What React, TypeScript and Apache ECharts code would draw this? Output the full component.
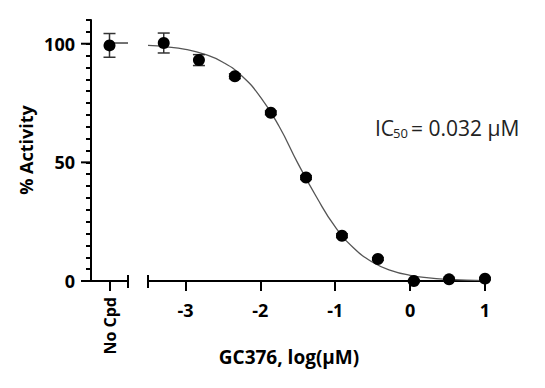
import React, { useEffect, useRef } from "react";
import * as echarts from "echarts";

// No-compound control
const noCpdX = [1];
const noCpdY = [99.3];
const noCpdErr = [5.0];
const topLineX = [1, 2];
const topLineY = [100.3, 100.3];

// GC376 dose response
const logConc = [-3.29, -2.82, -2.34, -1.86, -1.39, -0.91, -0.43, 0.05, 0.52, 1.0];
const activity = [100.3, 93.1, 86.3, 70.9, 43.6, 19.1, 9.3, 0.0, 0.7, 1.0];
const activityErr = [4.2, 2.3, 1.0, 0.8, 0.8, 0.8, 0.6, 0.6, 0.5, 0.5];

// fitted curve
const curveX = [-3.5, -3.25, -3.0, -2.75, -2.5, -2.25, -2.0, -1.75, -1.5, -1.25, -1.0, -0.75, -0.5, -0.25, 0, 0.25, 0.5, 0.75, 1.0];
const curveY = [99.3, 98.7, 97.6, 95.6, 92.2, 86.5, 77.6, 65.2, 49.7, 35.4, 22.8, 13.8, 7.9, 4.4, 2.4, 1.3, 0.7, 0.4, 0.2];

const xTicks = [-3, -2, -1, 0, 1];
const yTicks = [0, 50, 100];

const FONT = "Open Sans";

function errorRender(params: any, api: any) {
  const x = api.value(0);
  const y = api.value(1);
  const e = api.value(2);
  const t = api.coord([x, y + e]);
  const b = api.coord([x, y - e]);
  const w = 6;
  const st = { stroke: "#333", lineWidth: 1.5 };
  return {
    type: "group",
    children: [
      { type: "line", shape: { x1: t[0], y1: t[1], x2: b[0], y2: b[1] }, style: st },
      { type: "line", shape: { x1: t[0] - w, y1: t[1], x2: t[0] + w, y2: t[1] }, style: st },
      { type: "line", shape: { x1: b[0] - w, y1: b[1], x2: b[0] + w, y2: b[1] }, style: st },
    ],
  };
}

function segmentRender(params: any, api: any) {
  const a = api.coord([api.value(0), api.value(1)]);
  const b = api.coord([api.value(2), api.value(3)]);
  return {
    type: "line",
    shape: { x1: a[0], y1: a[1], x2: b[0], y2: b[1] },
    style: { stroke: "#444", lineWidth: 1.5 },
  };
}

function majorTickRender(params: any, api: any) {
  const p = api.coord([0, api.value(1)]);
  return {
    type: "line",
    shape: { x1: p[0] - 10, y1: p[1], x2: p[0], y2: p[1] },
    style: { stroke: "#000", lineWidth: 2 },
  };
}

export default function App() {
  const ref = useRef<HTMLDivElement>(null);
  useEffect(() => {
    if (!ref.current) return;
    const chart = echarts.init(ref.current, undefined, { renderer: "svg" });
    const tickLabel = { color: "#000", fontFamily: FONT, fontWeight: "bold" as const, fontSize: 18 };
    const txt = { fontFamily: FONT, fill: "#222", verticalAlign: "middle", align: "left" };
    const option: any = {
      animation: false,
      backgroundColor: "#fff",
      grid: [
        { left: 91, width: 37, top: 20, bottom: 107 },
        { left: 148, right: 60, top: 20, bottom: 107 },
      ],
      xAxis: [
        {
          type: "value", gridIndex: 0, min: 0, max: 2,
          axisLine: { show: true, onZero: false, lineStyle: { color: "#000", width: 2 } },
          axisTick: { show: true, customValues: [1], length: 10, lineStyle: { color: "#000", width: 2 } },
          axisLabel: { ...tickLabel, fontSize: 16, customValues: [1], rotate: 90, margin: 16, formatter: () => "No Cpd" },
          splitLine: { show: false },
        },
        {
          type: "value", gridIndex: 1, min: -3.5, max: 1,
          axisLine: { show: true, onZero: false, lineStyle: { color: "#000", width: 2 } },
          axisTick: { show: true, customValues: xTicks, length: 10, lineStyle: { color: "#000", width: 2 } },
          axisLabel: { ...tickLabel, customValues: xTicks, margin: 20 },
          splitLine: { show: false },
        },
      ],
      yAxis: [
        {
          type: "value", gridIndex: 0, min: 0, max: 110, interval: 5,
          axisLine: { show: true, onZero: false, lineStyle: { color: "#000", width: 2 } },
          axisTick: { show: true, length: 5, lineStyle: { color: "#000", width: 2 } },
          axisLabel: { ...tickLabel, customValues: yTicks, margin: 16 },
          splitLine: { show: false },
        },
        {
          type: "value", gridIndex: 1, min: 0, max: 110, show: false,
          splitLine: { show: false },
        },
      ],
      series: [
        {
          type: "custom", xAxisIndex: 0, yAxisIndex: 0,
          data: yTicks.map((v) => [0, v]),
          renderItem: majorTickRender, encode: { x: 0, y: 1 }, z: 5, clip: false, silent: true,
        },
        {
          type: "custom", xAxisIndex: 0, yAxisIndex: 0,
          data: [[topLineX[0], topLineY[0], topLineX[1], topLineY[1]]],
          renderItem: segmentRender, encode: { x: [0, 2], y: [1, 3] }, z: 1, clip: false,
        },
        {
          type: "custom", xAxisIndex: 0, yAxisIndex: 0,
          data: noCpdX.map((x, i) => [x, noCpdY[i], noCpdErr[i]]),
          renderItem: errorRender, encode: { x: 0, y: 1 }, z: 2, clip: false,
        },
        {
          type: "scatter", xAxisIndex: 0, yAxisIndex: 0,
          data: noCpdX.map((x, i) => [x, noCpdY[i]]),
          symbolSize: 12, itemStyle: { color: "#000", opacity: 1 }, z: 3, clip: false,
        },
        {
          type: "line", xAxisIndex: 1, yAxisIndex: 1,
          data: curveX.map((x, i) => [x, curveY[i]]),
          smooth: true, showSymbol: false, symbol: "none", lineStyle: { color: "#555", width: 1.3 }, z: 1,
        },
        {
          type: "custom", xAxisIndex: 1, yAxisIndex: 1,
          data: logConc.map((x, i) => [x, activity[i], activityErr[i]]),
          renderItem: errorRender, encode: { x: 0, y: 1 }, z: 2, clip: false,
        },
        {
          type: "scatter", xAxisIndex: 1, yAxisIndex: 1,
          data: logConc.map((x, i) => [x, activity[i]]),
          symbolSize: 12, itemStyle: { color: "#000", opacity: 1 }, z: 3, clip: false,
        },
      ],
      graphic: [
        { type: "line", shape: { x1: 128, y1: 275, x2: 128, y2: 288 }, style: { stroke: "#000", lineWidth: 2 } },
        { type: "line", shape: { x1: 148, y1: 275, x2: 148, y2: 288 }, style: { stroke: "#000", lineWidth: 2 } },
        {
          type: "text", x: 26, y: 150, rotation: Math.PI / 2,
          style: { text: "% Activity", fontFamily: FONT, fontWeight: "bold", fontSize: 18, fill: "#000", align: "center", verticalAlign: "middle" },
        },
        {
          type: "text", x: 289, y: 357,
          style: { text: "GC376, log(µM)", fontFamily: FONT, fontWeight: "bold", fontSize: 19, fill: "#000", align: "center", verticalAlign: "middle" },
        },
        { type: "text", x: 375, y: 128, style: { ...txt, text: "IC", fontSize: 21 } },
        { type: "text", x: 393, y: 133, style: { ...txt, text: "50", fontSize: 13 } },
        { type: "text", x: 411, y: 128, style: { ...txt, text: "= 0.032 µM", fontSize: 21 } },
      ],
    };
    chart.setOption(option);
    return () => chart.dispose();
  }, []);
  return <div ref={ref} style={{ position: "fixed", left: 0, top: 0, width: 545, height: 388 }} />;
}
